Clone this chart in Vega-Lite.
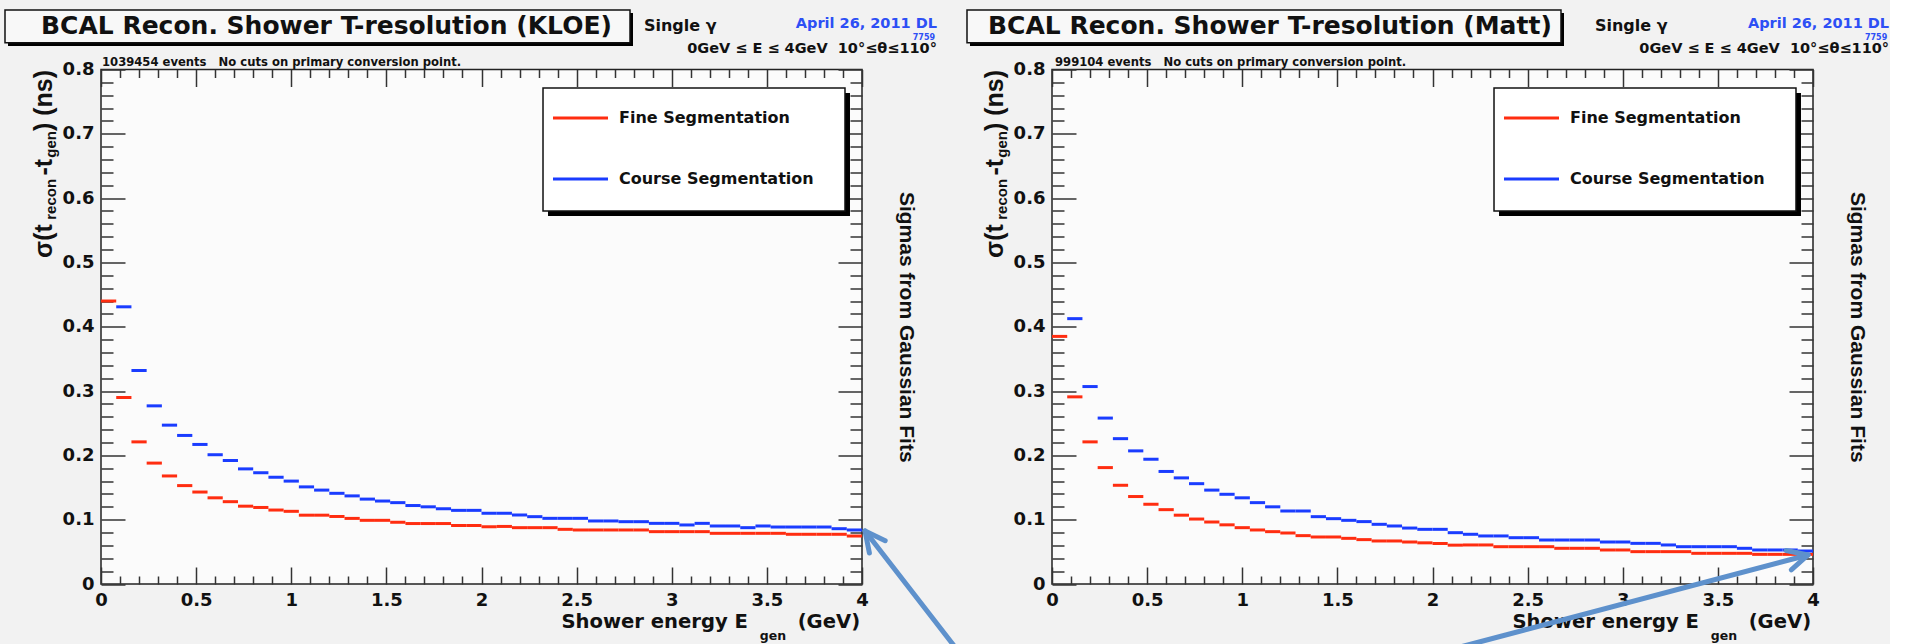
{
"$schema": "https://vega.github.io/schema/vega-lite/v6.json",
"background": "#f2f2f2",
"padding": {"left": 3, "top": 7.5, "right": 0, "bottom": 0},
"autosize": {"type": "pad"},
"bounds": "flush",
"spacing": 190,
"config": {"view": {"stroke": "#222", "strokeWidth": 1.5, "fill": "#fbfbfb"}, "axis": {"tickColor": "#333", "tickWidth": 1.5, "domain": false, "grid": false, "zindex": 1}},
"resolve": {"scale": {"color": "independent", "x": "independent", "y": "independent"}},
"datasets": {"hist": [
{"panel":"KLOE","series":"Fine Segmentation","E_lo":0,"E_hi":0.08,"sigma":0.44},
{"panel":"KLOE","series":"Fine Segmentation","E_lo":0.08,"E_hi":0.16,"sigma":0.29},
{"panel":"KLOE","series":"Fine Segmentation","E_lo":0.16,"E_hi":0.24,"sigma":0.221},
{"panel":"KLOE","series":"Fine Segmentation","E_lo":0.24,"E_hi":0.32,"sigma":0.188},
{"panel":"KLOE","series":"Fine Segmentation","E_lo":0.32,"E_hi":0.4,"sigma":0.168},
{"panel":"KLOE","series":"Fine Segmentation","E_lo":0.4,"E_hi":0.48,"sigma":0.153},
{"panel":"KLOE","series":"Fine Segmentation","E_lo":0.48,"E_hi":0.56,"sigma":0.143},
{"panel":"KLOE","series":"Fine Segmentation","E_lo":0.56,"E_hi":0.64,"sigma":0.134},
{"panel":"KLOE","series":"Fine Segmentation","E_lo":0.64,"E_hi":0.72,"sigma":0.128},
{"panel":"KLOE","series":"Fine Segmentation","E_lo":0.72,"E_hi":0.8,"sigma":0.121},
{"panel":"KLOE","series":"Fine Segmentation","E_lo":0.8,"E_hi":0.88,"sigma":0.119},
{"panel":"KLOE","series":"Fine Segmentation","E_lo":0.88,"E_hi":0.96,"sigma":0.115},
{"panel":"KLOE","series":"Fine Segmentation","E_lo":0.96,"E_hi":1.04,"sigma":0.113},
{"panel":"KLOE","series":"Fine Segmentation","E_lo":1.04,"E_hi":1.12,"sigma":0.107},
{"panel":"KLOE","series":"Fine Segmentation","E_lo":1.12,"E_hi":1.2,"sigma":0.107},
{"panel":"KLOE","series":"Fine Segmentation","E_lo":1.2,"E_hi":1.28,"sigma":0.105},
{"panel":"KLOE","series":"Fine Segmentation","E_lo":1.28,"E_hi":1.36,"sigma":0.102},
{"panel":"KLOE","series":"Fine Segmentation","E_lo":1.36,"E_hi":1.44,"sigma":0.099},
{"panel":"KLOE","series":"Fine Segmentation","E_lo":1.44,"E_hi":1.52,"sigma":0.099},
{"panel":"KLOE","series":"Fine Segmentation","E_lo":1.52,"E_hi":1.6,"sigma":0.096},
{"panel":"KLOE","series":"Fine Segmentation","E_lo":1.6,"E_hi":1.68,"sigma":0.094},
{"panel":"KLOE","series":"Fine Segmentation","E_lo":1.68,"E_hi":1.76,"sigma":0.094},
{"panel":"KLOE","series":"Fine Segmentation","E_lo":1.76,"E_hi":1.84,"sigma":0.094},
{"panel":"KLOE","series":"Fine Segmentation","E_lo":1.84,"E_hi":1.92,"sigma":0.091},
{"panel":"KLOE","series":"Fine Segmentation","E_lo":1.92,"E_hi":2,"sigma":0.091},
{"panel":"KLOE","series":"Fine Segmentation","E_lo":2,"E_hi":2.08,"sigma":0.089},
{"panel":"KLOE","series":"Fine Segmentation","E_lo":2.08,"E_hi":2.16,"sigma":0.0895},
{"panel":"KLOE","series":"Fine Segmentation","E_lo":2.16,"E_hi":2.24,"sigma":0.0876},
{"panel":"KLOE","series":"Fine Segmentation","E_lo":2.24,"E_hi":2.32,"sigma":0.0876},
{"panel":"KLOE","series":"Fine Segmentation","E_lo":2.32,"E_hi":2.4,"sigma":0.0876},
{"panel":"KLOE","series":"Fine Segmentation","E_lo":2.4,"E_hi":2.48,"sigma":0.085},
{"panel":"KLOE","series":"Fine Segmentation","E_lo":2.48,"E_hi":2.56,"sigma":0.084},
{"panel":"KLOE","series":"Fine Segmentation","E_lo":2.56,"E_hi":2.64,"sigma":0.084},
{"panel":"KLOE","series":"Fine Segmentation","E_lo":2.64,"E_hi":2.72,"sigma":0.084},
{"panel":"KLOE","series":"Fine Segmentation","E_lo":2.72,"E_hi":2.8,"sigma":0.084},
{"panel":"KLOE","series":"Fine Segmentation","E_lo":2.8,"E_hi":2.88,"sigma":0.084},
{"panel":"KLOE","series":"Fine Segmentation","E_lo":2.88,"E_hi":2.96,"sigma":0.0814},
{"panel":"KLOE","series":"Fine Segmentation","E_lo":2.96,"E_hi":3.04,"sigma":0.0814},
{"panel":"KLOE","series":"Fine Segmentation","E_lo":3.04,"E_hi":3.12,"sigma":0.0814},
{"panel":"KLOE","series":"Fine Segmentation","E_lo":3.12,"E_hi":3.2,"sigma":0.0814},
{"panel":"KLOE","series":"Fine Segmentation","E_lo":3.2,"E_hi":3.28,"sigma":0.0788},
{"panel":"KLOE","series":"Fine Segmentation","E_lo":3.28,"E_hi":3.36,"sigma":0.0788},
{"panel":"KLOE","series":"Fine Segmentation","E_lo":3.36,"E_hi":3.44,"sigma":0.0788},
{"panel":"KLOE","series":"Fine Segmentation","E_lo":3.44,"E_hi":3.52,"sigma":0.0788},
{"panel":"KLOE","series":"Fine Segmentation","E_lo":3.52,"E_hi":3.6,"sigma":0.0788},
{"panel":"KLOE","series":"Fine Segmentation","E_lo":3.6,"E_hi":3.68,"sigma":0.0773},
{"panel":"KLOE","series":"Fine Segmentation","E_lo":3.68,"E_hi":3.76,"sigma":0.0773},
{"panel":"KLOE","series":"Fine Segmentation","E_lo":3.76,"E_hi":3.84,"sigma":0.0773},
{"panel":"KLOE","series":"Fine Segmentation","E_lo":3.84,"E_hi":3.92,"sigma":0.0773},
{"panel":"KLOE","series":"Fine Segmentation","E_lo":3.92,"E_hi":4,"sigma":0.0746},
{"panel":"KLOE","series":"Course Segmentation","E_lo":0.08,"E_hi":0.16,"sigma":0.431},
{"panel":"KLOE","series":"Course Segmentation","E_lo":0.16,"E_hi":0.24,"sigma":0.332},
{"panel":"KLOE","series":"Course Segmentation","E_lo":0.24,"E_hi":0.32,"sigma":0.277},
{"panel":"KLOE","series":"Course Segmentation","E_lo":0.32,"E_hi":0.4,"sigma":0.247},
{"panel":"KLOE","series":"Course Segmentation","E_lo":0.4,"E_hi":0.48,"sigma":0.231},
{"panel":"KLOE","series":"Course Segmentation","E_lo":0.48,"E_hi":0.56,"sigma":0.217},
{"panel":"KLOE","series":"Course Segmentation","E_lo":0.56,"E_hi":0.64,"sigma":0.201},
{"panel":"KLOE","series":"Course Segmentation","E_lo":0.64,"E_hi":0.72,"sigma":0.192},
{"panel":"KLOE","series":"Course Segmentation","E_lo":0.72,"E_hi":0.8,"sigma":0.179},
{"panel":"KLOE","series":"Course Segmentation","E_lo":0.8,"E_hi":0.88,"sigma":0.173},
{"panel":"KLOE","series":"Course Segmentation","E_lo":0.88,"E_hi":0.96,"sigma":0.166},
{"panel":"KLOE","series":"Course Segmentation","E_lo":0.96,"E_hi":1.04,"sigma":0.16},
{"panel":"KLOE","series":"Course Segmentation","E_lo":1.04,"E_hi":1.12,"sigma":0.151},
{"panel":"KLOE","series":"Course Segmentation","E_lo":1.12,"E_hi":1.2,"sigma":0.146},
{"panel":"KLOE","series":"Course Segmentation","E_lo":1.2,"E_hi":1.28,"sigma":0.141},
{"panel":"KLOE","series":"Course Segmentation","E_lo":1.28,"E_hi":1.36,"sigma":0.137},
{"panel":"KLOE","series":"Course Segmentation","E_lo":1.36,"E_hi":1.44,"sigma":0.132},
{"panel":"KLOE","series":"Course Segmentation","E_lo":1.44,"E_hi":1.52,"sigma":0.129},
{"panel":"KLOE","series":"Course Segmentation","E_lo":1.52,"E_hi":1.6,"sigma":0.1265},
{"panel":"KLOE","series":"Course Segmentation","E_lo":1.6,"E_hi":1.68,"sigma":0.122},
{"panel":"KLOE","series":"Course Segmentation","E_lo":1.68,"E_hi":1.76,"sigma":0.12},
{"panel":"KLOE","series":"Course Segmentation","E_lo":1.76,"E_hi":1.84,"sigma":0.117},
{"panel":"KLOE","series":"Course Segmentation","E_lo":1.84,"E_hi":1.92,"sigma":0.1145},
{"panel":"KLOE","series":"Course Segmentation","E_lo":1.92,"E_hi":2,"sigma":0.1145},
{"panel":"KLOE","series":"Course Segmentation","E_lo":2,"E_hi":2.08,"sigma":0.11},
{"panel":"KLOE","series":"Course Segmentation","E_lo":2.08,"E_hi":2.16,"sigma":0.11},
{"panel":"KLOE","series":"Course Segmentation","E_lo":2.16,"E_hi":2.24,"sigma":0.1073},
{"panel":"KLOE","series":"Course Segmentation","E_lo":2.24,"E_hi":2.32,"sigma":0.1047},
{"panel":"KLOE","series":"Course Segmentation","E_lo":2.32,"E_hi":2.4,"sigma":0.1021},
{"panel":"KLOE","series":"Course Segmentation","E_lo":2.4,"E_hi":2.48,"sigma":0.1021},
{"panel":"KLOE","series":"Course Segmentation","E_lo":2.48,"E_hi":2.56,"sigma":0.1021},
{"panel":"KLOE","series":"Course Segmentation","E_lo":2.56,"E_hi":2.64,"sigma":0.098},
{"panel":"KLOE","series":"Course Segmentation","E_lo":2.64,"E_hi":2.72,"sigma":0.098},
{"panel":"KLOE","series":"Course Segmentation","E_lo":2.72,"E_hi":2.8,"sigma":0.0969},
{"panel":"KLOE","series":"Course Segmentation","E_lo":2.8,"E_hi":2.88,"sigma":0.0969},
{"panel":"KLOE","series":"Course Segmentation","E_lo":2.88,"E_hi":2.96,"sigma":0.0943},
{"panel":"KLOE","series":"Course Segmentation","E_lo":2.96,"E_hi":3.04,"sigma":0.0943},
{"panel":"KLOE","series":"Course Segmentation","E_lo":3.04,"E_hi":3.12,"sigma":0.0918},
{"panel":"KLOE","series":"Course Segmentation","E_lo":3.12,"E_hi":3.2,"sigma":0.0943},
{"panel":"KLOE","series":"Course Segmentation","E_lo":3.2,"E_hi":3.28,"sigma":0.0902},
{"panel":"KLOE","series":"Course Segmentation","E_lo":3.28,"E_hi":3.36,"sigma":0.0902},
{"panel":"KLOE","series":"Course Segmentation","E_lo":3.36,"E_hi":3.44,"sigma":0.0876},
{"panel":"KLOE","series":"Course Segmentation","E_lo":3.44,"E_hi":3.52,"sigma":0.0902},
{"panel":"KLOE","series":"Course Segmentation","E_lo":3.52,"E_hi":3.6,"sigma":0.0886},
{"panel":"KLOE","series":"Course Segmentation","E_lo":3.6,"E_hi":3.68,"sigma":0.0886},
{"panel":"KLOE","series":"Course Segmentation","E_lo":3.68,"E_hi":3.76,"sigma":0.0886},
{"panel":"KLOE","series":"Course Segmentation","E_lo":3.76,"E_hi":3.84,"sigma":0.0886},
{"panel":"KLOE","series":"Course Segmentation","E_lo":3.84,"E_hi":3.92,"sigma":0.086},
{"panel":"KLOE","series":"Course Segmentation","E_lo":3.92,"E_hi":4,"sigma":0.084},
{"panel":"Matt","series":"Fine Segmentation","E_lo":0,"E_hi":0.08,"sigma":0.385},
{"panel":"Matt","series":"Fine Segmentation","E_lo":0.08,"E_hi":0.16,"sigma":0.291},
{"panel":"Matt","series":"Fine Segmentation","E_lo":0.16,"E_hi":0.24,"sigma":0.221},
{"panel":"Matt","series":"Fine Segmentation","E_lo":0.24,"E_hi":0.32,"sigma":0.181},
{"panel":"Matt","series":"Fine Segmentation","E_lo":0.32,"E_hi":0.4,"sigma":0.1535},
{"panel":"Matt","series":"Fine Segmentation","E_lo":0.4,"E_hi":0.48,"sigma":0.136},
{"panel":"Matt","series":"Fine Segmentation","E_lo":0.48,"E_hi":0.56,"sigma":0.124},
{"panel":"Matt","series":"Fine Segmentation","E_lo":0.56,"E_hi":0.64,"sigma":0.1156},
{"panel":"Matt","series":"Fine Segmentation","E_lo":0.64,"E_hi":0.72,"sigma":0.107},
{"panel":"Matt","series":"Fine Segmentation","E_lo":0.72,"E_hi":0.8,"sigma":0.101},
{"panel":"Matt","series":"Fine Segmentation","E_lo":0.8,"E_hi":0.88,"sigma":0.0964},
{"panel":"Matt","series":"Fine Segmentation","E_lo":0.88,"E_hi":0.96,"sigma":0.092},
{"panel":"Matt","series":"Fine Segmentation","E_lo":0.96,"E_hi":1.04,"sigma":0.0876},
{"panel":"Matt","series":"Fine Segmentation","E_lo":1.04,"E_hi":1.12,"sigma":0.084},
{"panel":"Matt","series":"Fine Segmentation","E_lo":1.12,"E_hi":1.2,"sigma":0.0814},
{"panel":"Matt","series":"Fine Segmentation","E_lo":1.2,"E_hi":1.28,"sigma":0.0793},
{"panel":"Matt","series":"Fine Segmentation","E_lo":1.28,"E_hi":1.36,"sigma":0.0752},
{"panel":"Matt","series":"Fine Segmentation","E_lo":1.36,"E_hi":1.44,"sigma":0.0731},
{"panel":"Matt","series":"Fine Segmentation","E_lo":1.44,"E_hi":1.52,"sigma":0.0731},
{"panel":"Matt","series":"Fine Segmentation","E_lo":1.52,"E_hi":1.6,"sigma":0.071},
{"panel":"Matt","series":"Fine Segmentation","E_lo":1.6,"E_hi":1.68,"sigma":0.069},
{"panel":"Matt","series":"Fine Segmentation","E_lo":1.68,"E_hi":1.76,"sigma":0.0669},
{"panel":"Matt","series":"Fine Segmentation","E_lo":1.76,"E_hi":1.84,"sigma":0.0669},
{"panel":"Matt","series":"Fine Segmentation","E_lo":1.84,"E_hi":1.92,"sigma":0.0653},
{"panel":"Matt","series":"Fine Segmentation","E_lo":1.92,"E_hi":2,"sigma":0.064},
{"panel":"Matt","series":"Fine Segmentation","E_lo":2,"E_hi":2.08,"sigma":0.063},
{"panel":"Matt","series":"Fine Segmentation","E_lo":2.08,"E_hi":2.16,"sigma":0.0604},
{"panel":"Matt","series":"Fine Segmentation","E_lo":2.16,"E_hi":2.24,"sigma":0.0607},
{"panel":"Matt","series":"Fine Segmentation","E_lo":2.24,"E_hi":2.32,"sigma":0.0607},
{"panel":"Matt","series":"Fine Segmentation","E_lo":2.32,"E_hi":2.4,"sigma":0.058},
{"panel":"Matt","series":"Fine Segmentation","E_lo":2.4,"E_hi":2.48,"sigma":0.058},
{"panel":"Matt","series":"Fine Segmentation","E_lo":2.48,"E_hi":2.56,"sigma":0.058},
{"panel":"Matt","series":"Fine Segmentation","E_lo":2.56,"E_hi":2.64,"sigma":0.058},
{"panel":"Matt","series":"Fine Segmentation","E_lo":2.64,"E_hi":2.72,"sigma":0.0555},
{"panel":"Matt","series":"Fine Segmentation","E_lo":2.72,"E_hi":2.8,"sigma":0.0555},
{"panel":"Matt","series":"Fine Segmentation","E_lo":2.8,"E_hi":2.88,"sigma":0.0555},
{"panel":"Matt","series":"Fine Segmentation","E_lo":2.88,"E_hi":2.96,"sigma":0.0529},
{"panel":"Matt","series":"Fine Segmentation","E_lo":2.96,"E_hi":3.04,"sigma":0.0529},
{"panel":"Matt","series":"Fine Segmentation","E_lo":3.04,"E_hi":3.12,"sigma":0.0503},
{"panel":"Matt","series":"Fine Segmentation","E_lo":3.12,"E_hi":3.2,"sigma":0.0503},
{"panel":"Matt","series":"Fine Segmentation","E_lo":3.2,"E_hi":3.28,"sigma":0.0503},
{"panel":"Matt","series":"Fine Segmentation","E_lo":3.28,"E_hi":3.36,"sigma":0.0503},
{"panel":"Matt","series":"Fine Segmentation","E_lo":3.36,"E_hi":3.44,"sigma":0.0477},
{"panel":"Matt","series":"Fine Segmentation","E_lo":3.44,"E_hi":3.52,"sigma":0.0477},
{"panel":"Matt","series":"Fine Segmentation","E_lo":3.52,"E_hi":3.6,"sigma":0.0477},
{"panel":"Matt","series":"Fine Segmentation","E_lo":3.6,"E_hi":3.68,"sigma":0.0477},
{"panel":"Matt","series":"Fine Segmentation","E_lo":3.68,"E_hi":3.76,"sigma":0.0461},
{"panel":"Matt","series":"Fine Segmentation","E_lo":3.76,"E_hi":3.84,"sigma":0.0461},
{"panel":"Matt","series":"Fine Segmentation","E_lo":3.84,"E_hi":3.92,"sigma":0.0461},
{"panel":"Matt","series":"Fine Segmentation","E_lo":3.92,"E_hi":4,"sigma":0.0461},
{"panel":"Matt","series":"Course Segmentation","E_lo":0.08,"E_hi":0.16,"sigma":0.4126},
{"panel":"Matt","series":"Course Segmentation","E_lo":0.16,"E_hi":0.24,"sigma":0.307},
{"panel":"Matt","series":"Course Segmentation","E_lo":0.24,"E_hi":0.32,"sigma":0.258},
{"panel":"Matt","series":"Course Segmentation","E_lo":0.32,"E_hi":0.4,"sigma":0.226},
{"panel":"Matt","series":"Course Segmentation","E_lo":0.4,"E_hi":0.48,"sigma":0.207},
{"panel":"Matt","series":"Course Segmentation","E_lo":0.48,"E_hi":0.56,"sigma":0.194},
{"panel":"Matt","series":"Course Segmentation","E_lo":0.56,"E_hi":0.64,"sigma":0.175},
{"panel":"Matt","series":"Course Segmentation","E_lo":0.64,"E_hi":0.72,"sigma":0.165},
{"panel":"Matt","series":"Course Segmentation","E_lo":0.72,"E_hi":0.8,"sigma":0.156},
{"panel":"Matt","series":"Course Segmentation","E_lo":0.8,"E_hi":0.88,"sigma":0.146},
{"panel":"Matt","series":"Course Segmentation","E_lo":0.88,"E_hi":0.96,"sigma":0.1395},
{"panel":"Matt","series":"Course Segmentation","E_lo":0.96,"E_hi":1.04,"sigma":0.134},
{"panel":"Matt","series":"Course Segmentation","E_lo":1.04,"E_hi":1.12,"sigma":0.1265},
{"panel":"Matt","series":"Course Segmentation","E_lo":1.12,"E_hi":1.2,"sigma":0.12},
{"panel":"Matt","series":"Course Segmentation","E_lo":1.2,"E_hi":1.28,"sigma":0.1135},
{"panel":"Matt","series":"Course Segmentation","E_lo":1.28,"E_hi":1.36,"sigma":0.1135},
{"panel":"Matt","series":"Course Segmentation","E_lo":1.36,"E_hi":1.44,"sigma":0.1047},
{"panel":"Matt","series":"Course Segmentation","E_lo":1.44,"E_hi":1.52,"sigma":0.1016},
{"panel":"Matt","series":"Course Segmentation","E_lo":1.52,"E_hi":1.6,"sigma":0.099},
{"panel":"Matt","series":"Course Segmentation","E_lo":1.6,"E_hi":1.68,"sigma":0.097},
{"panel":"Matt","series":"Course Segmentation","E_lo":1.68,"E_hi":1.76,"sigma":0.0928},
{"panel":"Matt","series":"Course Segmentation","E_lo":1.76,"E_hi":1.84,"sigma":0.0902},
{"panel":"Matt","series":"Course Segmentation","E_lo":1.84,"E_hi":1.92,"sigma":0.087},
{"panel":"Matt","series":"Course Segmentation","E_lo":1.92,"E_hi":2,"sigma":0.085},
{"panel":"Matt","series":"Course Segmentation","E_lo":2,"E_hi":2.08,"sigma":0.085},
{"panel":"Matt","series":"Course Segmentation","E_lo":2.08,"E_hi":2.16,"sigma":0.0798},
{"panel":"Matt","series":"Course Segmentation","E_lo":2.16,"E_hi":2.24,"sigma":0.0773},
{"panel":"Matt","series":"Course Segmentation","E_lo":2.24,"E_hi":2.32,"sigma":0.0747},
{"panel":"Matt","series":"Course Segmentation","E_lo":2.32,"E_hi":2.4,"sigma":0.0747},
{"panel":"Matt","series":"Course Segmentation","E_lo":2.4,"E_hi":2.48,"sigma":0.072},
{"panel":"Matt","series":"Course Segmentation","E_lo":2.48,"E_hi":2.56,"sigma":0.072},
{"panel":"Matt","series":"Course Segmentation","E_lo":2.56,"E_hi":2.64,"sigma":0.0684},
{"panel":"Matt","series":"Course Segmentation","E_lo":2.64,"E_hi":2.72,"sigma":0.0684},
{"panel":"Matt","series":"Course Segmentation","E_lo":2.72,"E_hi":2.8,"sigma":0.0684},
{"panel":"Matt","series":"Course Segmentation","E_lo":2.8,"E_hi":2.88,"sigma":0.0684},
{"panel":"Matt","series":"Course Segmentation","E_lo":2.88,"E_hi":2.96,"sigma":0.0653},
{"panel":"Matt","series":"Course Segmentation","E_lo":2.96,"E_hi":3.04,"sigma":0.0653},
{"panel":"Matt","series":"Course Segmentation","E_lo":3.04,"E_hi":3.12,"sigma":0.0632},
{"panel":"Matt","series":"Course Segmentation","E_lo":3.12,"E_hi":3.2,"sigma":0.0632},
{"panel":"Matt","series":"Course Segmentation","E_lo":3.2,"E_hi":3.28,"sigma":0.0607},
{"panel":"Matt","series":"Course Segmentation","E_lo":3.28,"E_hi":3.36,"sigma":0.058},
{"panel":"Matt","series":"Course Segmentation","E_lo":3.36,"E_hi":3.44,"sigma":0.058},
{"panel":"Matt","series":"Course Segmentation","E_lo":3.44,"E_hi":3.52,"sigma":0.058},
{"panel":"Matt","series":"Course Segmentation","E_lo":3.52,"E_hi":3.6,"sigma":0.058},
{"panel":"Matt","series":"Course Segmentation","E_lo":3.6,"E_hi":3.68,"sigma":0.0555},
{"panel":"Matt","series":"Course Segmentation","E_lo":3.68,"E_hi":3.76,"sigma":0.0529},
{"panel":"Matt","series":"Course Segmentation","E_lo":3.76,"E_hi":3.84,"sigma":0.0529},
{"panel":"Matt","series":"Course Segmentation","E_lo":3.84,"E_hi":3.92,"sigma":0.0529},
{"panel":"Matt","series":"Course Segmentation","E_lo":3.92,"E_hi":4,"sigma":0.0513}
]},
"hconcat": [
{
"width": 761, "height": 514.5,
"layer": [
{"data": {"name": "hist"}, "transform": [{"filter": "datum.panel === 'KLOE'"}],
 "mark": {"type": "rule", "strokeWidth": 3},
 "encoding": {
  "x": {"field": "E_lo", "type": "quantitative", "scale": {"domain": [0, 4], "nice": false, "zero": false},
   "axis": {"orient": "bottom", "values": [0,0.5,1,1.5,2,2.5,3,3.5,4], "format": "~g", "ticks": false,
    "labelFont": "DejaVu Sans", "labelFontWeight": "bold", "labelFontSize": 18, "labelColor": "#111",
    "labelPadding": 7, "labelOverlap": false, "labelFlush": false, "labelBound": false, "title": null}},
  "x2": {"field": "E_hi"},
  "y": {"field": "sigma", "type": "quantitative", "scale": {"domain": [0, 0.8], "nice": false, "zero": false},
   "axis": {"orient": "left", "values": [0,0.1,0.2,0.3,0.4,0.5,0.6,0.7,0.8], "format": "~g", "ticks": false,
    "labelFont": "DejaVu Sans", "labelFontWeight": "bold", "labelFontSize": 18, "labelColor": "#111",
    "labelPadding": 7, "labelOverlap": false, "labelFlush": false, "labelBound": false,
    "title": "σ(t\u00a0\u00a0\u00a0\u00a0\u00a0\u00a0\u00a0-t\u00a0\u00a0\u00a0\u00a0) (ns)", "titleFont": "Liberation Sans", "titleFontWeight": "bold", "titleFontSize": 25, "titleColor": "#111", "titleAnchor": "end", "titlePadding": 6}},
  "color": {"field": "series", "type": "nominal", "scale": {"domain": ["Fine Segmentation", "Course Segmentation"], "range": ["#ff2d10", "#1a3cff"]}, "legend": null}
 }},
{"data": {"name": "hist"}, "transform": [{"filter": "datum.panel === 'KLOE'"}],
 "mark": {"type": "rule", "opacity": 0},
 "encoding": {
  "x": {"field": "E_lo", "type": "quantitative", "axis": {"orient": "top", "values": [0,0.5,1,1.5,2,2.5,3,3.5,4], "labels": false, "tickSize": 17, "offset": -17, "title": null}},
  "x2": {"field": "E_hi"},
  "y": {"field": "sigma", "type": "quantitative", "axis": {"orient": "right", "values": [0.4], "labels": false, "ticks": false,
    "title": "Sigmas from Gaussian Fits", "titleFont": "Liberation Sans", "titleFontWeight": "bold", "titleFontSize": 21, "titleColor": "#111", "titlePadding": 33}}
 }},
{"data": {"name": "hist"}, "transform": [{"filter": "datum.panel === 'KLOE'"}],
 "mark": {"type": "rule", "opacity": 0},
 "encoding": {
  "x": {"field": "E_lo", "type": "quantitative", "axis": {"orient": "bottom", "values": [0,0.5,1,1.5,2,2.5,3,3.5,4], "labels": false, "tickSize": 17, "offset": -17, "title": null}},
  "x2": {"field": "E_hi"},
  "y": {"field": "sigma", "type": "quantitative", "axis": {"orient": "left", "values": [0,0.1,0.2,0.3,0.4,0.5,0.6,0.7,0.8], "labels": false, "tickSize": 24, "offset": -24, "title": null}}
 }},
{"data": {"name": "hist"}, "transform": [{"filter": "datum.panel === 'KLOE'"}],
 "mark": {"type": "rule", "opacity": 0},
 "encoding": {
  "x": {"field": "E_lo", "type": "quantitative", "axis": {"orient": "bottom", "values": [0.1,0.2,0.3,0.4,0.6,0.7,0.8,0.9,1.1,1.2,1.3,1.4,1.6,1.7,1.8,1.9,2.1,2.2,2.3,2.4,2.6,2.7,2.8,2.9,3.1,3.2,3.3,3.4,3.6,3.7,3.8,3.9], "labels": false, "tickSize": 8, "offset": -8, "title": null}},
  "x2": {"field": "E_hi"},
  "y": {"field": "sigma", "type": "quantitative", "axis": {"orient": "left", "values": [0.02,0.04,0.06,0.08,0.12,0.14,0.16,0.18,0.22,0.24,0.26,0.28,0.32,0.34,0.36,0.38,0.42,0.44,0.46,0.48,0.52,0.54,0.56,0.58,0.62,0.64,0.66,0.68,0.72,0.74,0.76,0.78], "labels": false, "tickSize": 12, "offset": -12, "title": null}}
 }},
{"data": {"name": "hist"}, "transform": [{"filter": "datum.panel === 'KLOE'"}],
 "mark": {"type": "rule", "opacity": 0},
 "encoding": {
  "x": {"field": "E_lo", "type": "quantitative", "axis": {"orient": "top", "values": [0.1,0.2,0.3,0.4,0.6,0.7,0.8,0.9,1.1,1.2,1.3,1.4,1.6,1.7,1.8,1.9,2.1,2.2,2.3,2.4,2.6,2.7,2.8,2.9,3.1,3.2,3.3,3.4,3.6,3.7,3.8,3.9], "labels": false, "tickSize": 8, "offset": -8, "title": null}},
  "x2": {"field": "E_hi"},
  "y": {"field": "sigma", "type": "quantitative", "axis": {"orient": "right", "values": [0,0.1,0.2,0.3,0.4,0.5,0.6,0.7,0.8], "labels": false, "tickSize": 24, "offset": -24, "title": null}}
 }},
{"data": {"name": "hist"}, "transform": [{"filter": "datum.panel === 'KLOE'"}],
 "mark": {"type": "rule", "opacity": 0},
 "encoding": {
  "x": {"field": "E_lo", "type": "quantitative", "axis": null},
  "x2": {"field": "E_hi"},
  "y": {"field": "sigma", "type": "quantitative", "axis": {"orient": "right", "values": [0.02,0.04,0.06,0.08,0.12,0.14,0.16,0.18,0.22,0.24,0.26,0.28,0.32,0.34,0.36,0.38,0.42,0.44,0.46,0.48,0.52,0.54,0.56,0.58,0.62,0.64,0.66,0.68,0.72,0.74,0.76,0.78], "labels": false, "tickSize": 12, "offset": -12, "title": null}}
 }},
{"data": {"values": [{}]}, "mark": {"type": "rect", "fill": "#000000", "clip": false},
 "encoding": {"x": {"datum": 2.3496, "type": "quantitative", "axis": null}, "x2": {"datum": 3.9369}, "y": {"datum": 0.7636, "type": "quantitative", "axis": null}, "y2": {"datum": 0.5723}}},
{"data": {"values": [{}]}, "mark": {"type": "rect", "fill": "#ffffff", "stroke": "#111", "strokeWidth": 1.5, "clip": false},
 "encoding": {"x": {"datum": 2.3233, "type": "quantitative", "axis": null}, "x2": {"datum": 3.9106}, "y": {"datum": 0.7714, "type": "quantitative", "axis": null}, "y2": {"datum": 0.5801}}},
{"data": {"values": [{}]}, "mark": {"type": "rule", "strokeWidth": 3, "clip": false},
 "encoding": {"x": {"datum": 2.3758, "type": "quantitative", "axis": null}, "x2": {"datum": 2.6649}, "y": {"datum": 0.7247, "type": "quantitative", "axis": null}, "color": {"datum": "Fine Segmentation", "type": "nominal", "legend": null}}},
{"data": {"values": [{}]}, "mark": {"type": "rule", "strokeWidth": 3, "clip": false},
 "encoding": {"x": {"datum": 2.3758, "type": "quantitative", "axis": null}, "x2": {"datum": 2.6649}, "y": {"datum": 0.6299, "type": "quantitative", "axis": null}, "color": {"datum": "Course Segmentation", "type": "nominal", "legend": null}}},
{"data": {"values": [{}]}, "mark": {"type": "text", "text": "Fine Segmentation", "font": "DejaVu Sans", "fontWeight": "bold", "fontSize": 16, "align": "left", "baseline": "middle", "color": "#111", "clip": false},
 "encoding": {"x": {"datum": 2.7227, "type": "quantitative", "axis": null}, "y": {"datum": 0.7247, "type": "quantitative", "axis": null}}},
{"data": {"values": [{}]}, "mark": {"type": "text", "text": "Course Segmentation", "font": "DejaVu Sans", "fontWeight": "bold", "fontSize": 16, "align": "left", "baseline": "middle", "color": "#111", "clip": false},
 "encoding": {"x": {"datum": 2.7227, "type": "quantitative", "axis": null}, "y": {"datum": 0.6299, "type": "quantitative", "axis": null}}},
{"data": {"values": [{}]}, "mark": {"type": "rect", "fill": "#000000", "clip": false},
 "encoding": {"x": {"datum": -0.4888, "type": "quantitative", "axis": null}, "x2": {"datum": 2.7963}, "y": {"datum": 0.888, "type": "quantitative", "axis": null}, "y2": {"datum": 0.8367}}},
{"data": {"values": [{}]}, "mark": {"type": "rect", "fill": "#f8f8f8", "stroke": "#111", "strokeWidth": 1.5, "clip": false},
 "encoding": {"x": {"datum": -0.5046, "type": "quantitative", "axis": null}, "x2": {"datum": 2.7806}, "y": {"datum": 0.8927, "type": "quantitative", "axis": null}, "y2": {"datum": 0.8414}}},
{"data": {"values": [{}]}, "mark": {"type": "text", "text": "BCAL Recon. Shower T-resolution (KLOE)", "font": "DejaVu Sans", "fontWeight": "bold", "fontSize": 25, "align": "left", "baseline": "middle", "color": "#111", "clip": false},
 "encoding": {"x": {"datum": -0.3154, "type": "quantitative", "axis": null}, "y": {"datum": 0.867, "type": "quantitative", "axis": null}}},
{"data": {"values": [{}]}, "mark": {"type": "text", "text": "1039454 events\u00a0\u00a0\u00a0No cuts on primary conversion point.", "font": "DejaVu Sans", "fontWeight": "bold", "fontSize": 11.6, "align": "left", "baseline": "middle", "color": "#111", "clip": false},
 "encoding": {"x": {"datum": 0.0053, "type": "quantitative", "axis": null}, "y": {"datum": 0.8103, "type": "quantitative", "axis": null}}},
{"data": {"values": [{}]}, "mark": {"type": "text", "text": "Single γ", "font": "DejaVu Sans", "fontWeight": "bold", "fontSize": 16, "align": "left", "baseline": "middle", "color": "#111", "clip": false},
 "encoding": {"x": {"datum": 2.854, "type": "quantitative", "axis": null}, "y": {"datum": 0.8678, "type": "quantitative", "axis": null}}},
{"data": {"values": [{}]}, "mark": {"type": "text", "text": "April 26, 2011 DL", "font": "DejaVu Sans", "fontWeight": "bold", "fontSize": 14.5, "align": "right", "baseline": "middle", "color": "#2d4ff5", "clip": false},
 "encoding": {"x": {"datum": 4.394, "type": "quantitative", "axis": null}, "y": {"datum": 0.871, "type": "quantitative", "axis": null}}},
{"data": {"values": [{}]}, "mark": {"type": "text", "text": "7759", "font": "DejaVu Sans", "fontWeight": "bold", "fontSize": 8, "align": "right", "baseline": "middle", "color": "#2d4ff5", "clip": false},
 "encoding": {"x": {"datum": 4.384, "type": "quantitative", "axis": null}, "y": {"datum": 0.8491, "type": "quantitative", "axis": null}}},
{"data": {"values": [{}]}, "mark": {"type": "text", "text": "0GeV ≤ E ≤ 4GeV\u00a0\u00a010°≤θ≤110°", "font": "DejaVu Sans", "fontWeight": "bold", "fontSize": 14.5, "align": "right", "baseline": "middle", "color": "#111", "clip": false},
 "encoding": {"x": {"datum": 4.394, "type": "quantitative", "axis": null}, "y": {"datum": 0.832, "type": "quantitative", "axis": null}}},
{"data": {"values": [{}]}, "mark": {"type": "text", "text": "Shower energy E", "font": "DejaVu Sans", "fontWeight": "bold", "fontSize": 19.6, "align": "right", "baseline": "middle", "color": "#111", "clip": false},
 "encoding": {"x": {"datum": 3.4008, "type": "quantitative", "axis": null}, "y": {"datum": -0.0585, "type": "quantitative", "axis": null}}},
{"data": {"values": [{}]}, "mark": {"type": "text", "text": "(GeV)", "font": "DejaVu Sans", "fontWeight": "bold", "fontSize": 19.6, "align": "right", "baseline": "middle", "color": "#111", "clip": false},
 "encoding": {"x": {"datum": 3.99, "type": "quantitative", "axis": null}, "y": {"datum": -0.0585, "type": "quantitative", "axis": null}}},
{"data": {"values": [{}]}, "mark": {"type": "text", "text": "gen", "font": "DejaVu Sans", "fontWeight": "bold", "fontSize": 12.5, "align": "center", "baseline": "middle", "color": "#111", "clip": false},
 "encoding": {"x": {"datum": 3.532, "type": "quantitative", "axis": null}, "y": {"datum": -0.0809, "type": "quantitative", "axis": null}}},
{"data": {"values": [{}]}, "mark": {"type": "text", "text": "recon", "font": "Liberation Sans", "fontWeight": "bold", "fontSize": 15, "angle": 270, "align": "center", "baseline": "middle", "color": "#111", "clip": false},
 "encoding": {"x": {"datum": -0.2654, "type": "quantitative", "axis": null}, "y": {"datum": 0.5981, "type": "quantitative", "axis": null}}},
{"data": {"values": [{}]}, "mark": {"type": "text", "text": "gen", "font": "Liberation Sans", "fontWeight": "bold", "fontSize": 15, "angle": 270, "align": "center", "baseline": "middle", "color": "#111", "clip": false},
 "encoding": {"x": {"datum": -0.2654, "type": "quantitative", "axis": null}, "y": {"datum": 0.6835, "type": "quantitative", "axis": null}}},
{"data": {"values": [{}]}, "mark": {"type": "rule", "color": "#5e91cc", "strokeWidth": 5, "strokeCap": "round", "clip": false},
 "encoding": {"x": {"datum": 4.505, "type": "quantitative", "axis": null}, "y": {"datum": -0.1042, "type": "quantitative", "axis": null}, "x2": {"datum": 4.016}, "y2": {"datum": 0.0824}}},
{"data": {"values": [{}]}, "mark": {"type": "point", "shape": "M-2,-1L0,0L-2,1", "size": 400, "angle": 232.2, "filled": false, "stroke": "#5e91cc", "strokeWidth": 5, "strokeCap": "round", "strokeJoin": "round", "opacity": 1, "clip": false},
 "encoding": {"x": {"datum": 4.016, "type": "quantitative", "axis": null}, "y": {"datum": 0.0824, "type": "quantitative", "axis": null}}}
]
},
{
"width": 761, "height": 514.5,
"layer": [
{"data": {"name": "hist"}, "transform": [{"filter": "datum.panel === 'Matt'"}],
 "mark": {"type": "rule", "strokeWidth": 3},
 "encoding": {
  "x": {"field": "E_lo", "type": "quantitative", "scale": {"domain": [0, 4], "nice": false, "zero": false},
   "axis": {"orient": "bottom", "values": [0,0.5,1,1.5,2,2.5,3,3.5,4], "format": "~g", "ticks": false,
    "labelFont": "DejaVu Sans", "labelFontWeight": "bold", "labelFontSize": 18, "labelColor": "#111",
    "labelPadding": 7, "labelOverlap": false, "labelFlush": false, "labelBound": false, "title": null}},
  "x2": {"field": "E_hi"},
  "y": {"field": "sigma", "type": "quantitative", "scale": {"domain": [0, 0.8], "nice": false, "zero": false},
   "axis": {"orient": "left", "values": [0,0.1,0.2,0.3,0.4,0.5,0.6,0.7,0.8], "format": "~g", "ticks": false,
    "labelFont": "DejaVu Sans", "labelFontWeight": "bold", "labelFontSize": 18, "labelColor": "#111",
    "labelPadding": 7, "labelOverlap": false, "labelFlush": false, "labelBound": false,
    "title": "σ(t\u00a0\u00a0\u00a0\u00a0\u00a0\u00a0\u00a0-t\u00a0\u00a0\u00a0\u00a0) (ns)", "titleFont": "Liberation Sans", "titleFontWeight": "bold", "titleFontSize": 25, "titleColor": "#111", "titleAnchor": "end", "titlePadding": 6}},
  "color": {"field": "series", "type": "nominal", "scale": {"domain": ["Fine Segmentation", "Course Segmentation"], "range": ["#ff2d10", "#1a3cff"]}, "legend": null}
 }},
{"data": {"name": "hist"}, "transform": [{"filter": "datum.panel === 'Matt'"}],
 "mark": {"type": "rule", "opacity": 0},
 "encoding": {
  "x": {"field": "E_lo", "type": "quantitative", "axis": {"orient": "top", "values": [0,0.5,1,1.5,2,2.5,3,3.5,4], "labels": false, "tickSize": 17, "offset": -17, "title": null}},
  "x2": {"field": "E_hi"},
  "y": {"field": "sigma", "type": "quantitative", "axis": {"orient": "right", "values": [0.4], "labels": false, "ticks": false,
    "title": "Sigmas from Gaussian Fits", "titleFont": "Liberation Sans", "titleFontWeight": "bold", "titleFontSize": 21, "titleColor": "#111", "titlePadding": 33}}
 }},
{"data": {"name": "hist"}, "transform": [{"filter": "datum.panel === 'Matt'"}],
 "mark": {"type": "rule", "opacity": 0},
 "encoding": {
  "x": {"field": "E_lo", "type": "quantitative", "axis": {"orient": "bottom", "values": [0,0.5,1,1.5,2,2.5,3,3.5,4], "labels": false, "tickSize": 17, "offset": -17, "title": null}},
  "x2": {"field": "E_hi"},
  "y": {"field": "sigma", "type": "quantitative", "axis": {"orient": "left", "values": [0,0.1,0.2,0.3,0.4,0.5,0.6,0.7,0.8], "labels": false, "tickSize": 24, "offset": -24, "title": null}}
 }},
{"data": {"name": "hist"}, "transform": [{"filter": "datum.panel === 'Matt'"}],
 "mark": {"type": "rule", "opacity": 0},
 "encoding": {
  "x": {"field": "E_lo", "type": "quantitative", "axis": {"orient": "bottom", "values": [0.1,0.2,0.3,0.4,0.6,0.7,0.8,0.9,1.1,1.2,1.3,1.4,1.6,1.7,1.8,1.9,2.1,2.2,2.3,2.4,2.6,2.7,2.8,2.9,3.1,3.2,3.3,3.4,3.6,3.7,3.8,3.9], "labels": false, "tickSize": 8, "offset": -8, "title": null}},
  "x2": {"field": "E_hi"},
  "y": {"field": "sigma", "type": "quantitative", "axis": {"orient": "left", "values": [0.02,0.04,0.06,0.08,0.12,0.14,0.16,0.18,0.22,0.24,0.26,0.28,0.32,0.34,0.36,0.38,0.42,0.44,0.46,0.48,0.52,0.54,0.56,0.58,0.62,0.64,0.66,0.68,0.72,0.74,0.76,0.78], "labels": false, "tickSize": 12, "offset": -12, "title": null}}
 }},
{"data": {"name": "hist"}, "transform": [{"filter": "datum.panel === 'Matt'"}],
 "mark": {"type": "rule", "opacity": 0},
 "encoding": {
  "x": {"field": "E_lo", "type": "quantitative", "axis": {"orient": "top", "values": [0.1,0.2,0.3,0.4,0.6,0.7,0.8,0.9,1.1,1.2,1.3,1.4,1.6,1.7,1.8,1.9,2.1,2.2,2.3,2.4,2.6,2.7,2.8,2.9,3.1,3.2,3.3,3.4,3.6,3.7,3.8,3.9], "labels": false, "tickSize": 8, "offset": -8, "title": null}},
  "x2": {"field": "E_hi"},
  "y": {"field": "sigma", "type": "quantitative", "axis": {"orient": "right", "values": [0,0.1,0.2,0.3,0.4,0.5,0.6,0.7,0.8], "labels": false, "tickSize": 24, "offset": -24, "title": null}}
 }},
{"data": {"name": "hist"}, "transform": [{"filter": "datum.panel === 'Matt'"}],
 "mark": {"type": "rule", "opacity": 0},
 "encoding": {
  "x": {"field": "E_lo", "type": "quantitative", "axis": null},
  "x2": {"field": "E_hi"},
  "y": {"field": "sigma", "type": "quantitative", "axis": {"orient": "right", "values": [0.02,0.04,0.06,0.08,0.12,0.14,0.16,0.18,0.22,0.24,0.26,0.28,0.32,0.34,0.36,0.38,0.42,0.44,0.46,0.48,0.52,0.54,0.56,0.58,0.62,0.64,0.66,0.68,0.72,0.74,0.76,0.78], "labels": false, "tickSize": 12, "offset": -12, "title": null}}
 }},
{"data": {"values": [{}]}, "mark": {"type": "rect", "fill": "#000000", "clip": false},
 "encoding": {"x": {"datum": 2.3496, "type": "quantitative", "axis": null}, "x2": {"datum": 3.9369}, "y": {"datum": 0.7636, "type": "quantitative", "axis": null}, "y2": {"datum": 0.5723}}},
{"data": {"values": [{}]}, "mark": {"type": "rect", "fill": "#ffffff", "stroke": "#111", "strokeWidth": 1.5, "clip": false},
 "encoding": {"x": {"datum": 2.3233, "type": "quantitative", "axis": null}, "x2": {"datum": 3.9106}, "y": {"datum": 0.7714, "type": "quantitative", "axis": null}, "y2": {"datum": 0.5801}}},
{"data": {"values": [{}]}, "mark": {"type": "rule", "strokeWidth": 3, "clip": false},
 "encoding": {"x": {"datum": 2.3758, "type": "quantitative", "axis": null}, "x2": {"datum": 2.6649}, "y": {"datum": 0.7247, "type": "quantitative", "axis": null}, "color": {"datum": "Fine Segmentation", "type": "nominal", "legend": null}}},
{"data": {"values": [{}]}, "mark": {"type": "rule", "strokeWidth": 3, "clip": false},
 "encoding": {"x": {"datum": 2.3758, "type": "quantitative", "axis": null}, "x2": {"datum": 2.6649}, "y": {"datum": 0.6299, "type": "quantitative", "axis": null}, "color": {"datum": "Course Segmentation", "type": "nominal", "legend": null}}},
{"data": {"values": [{}]}, "mark": {"type": "text", "text": "Fine Segmentation", "font": "DejaVu Sans", "fontWeight": "bold", "fontSize": 16, "align": "left", "baseline": "middle", "color": "#111", "clip": false},
 "encoding": {"x": {"datum": 2.7227, "type": "quantitative", "axis": null}, "y": {"datum": 0.7247, "type": "quantitative", "axis": null}}},
{"data": {"values": [{}]}, "mark": {"type": "text", "text": "Course Segmentation", "font": "DejaVu Sans", "fontWeight": "bold", "fontSize": 16, "align": "left", "baseline": "middle", "color": "#111", "clip": false},
 "encoding": {"x": {"datum": 2.7227, "type": "quantitative", "axis": null}, "y": {"datum": 0.6299, "type": "quantitative", "axis": null}}},
{"data": {"values": [{}]}, "mark": {"type": "rect", "fill": "#000000", "clip": false},
 "encoding": {"x": {"datum": -0.4311, "type": "quantitative", "axis": null}, "x2": {"datum": 2.6912}, "y": {"datum": 0.888, "type": "quantitative", "axis": null}, "y2": {"datum": 0.8367}}},
{"data": {"values": [{}]}, "mark": {"type": "rect", "fill": "#f8f8f8", "stroke": "#111", "strokeWidth": 1.5, "clip": false},
 "encoding": {"x": {"datum": -0.4468, "type": "quantitative", "axis": null}, "x2": {"datum": 2.6754}, "y": {"datum": 0.8927, "type": "quantitative", "axis": null}, "y2": {"datum": 0.8414}}},
{"data": {"values": [{}]}, "mark": {"type": "text", "text": "BCAL Recon. Shower T-resolution (Matt)", "font": "DejaVu Sans", "fontWeight": "bold", "fontSize": 25, "align": "left", "baseline": "middle", "color": "#111", "clip": false},
 "encoding": {"x": {"datum": -0.3364, "type": "quantitative", "axis": null}, "y": {"datum": 0.867, "type": "quantitative", "axis": null}}},
{"data": {"values": [{}]}, "mark": {"type": "text", "text": "999104 events\u00a0\u00a0\u00a0No cuts on primary conversion point.", "font": "DejaVu Sans", "fontWeight": "bold", "fontSize": 11.6, "align": "left", "baseline": "middle", "color": "#111", "clip": false},
 "encoding": {"x": {"datum": 0.0158, "type": "quantitative", "axis": null}, "y": {"datum": 0.8103, "type": "quantitative", "axis": null}}},
{"data": {"values": [{}]}, "mark": {"type": "text", "text": "Single γ", "font": "DejaVu Sans", "fontWeight": "bold", "fontSize": 16, "align": "left", "baseline": "middle", "color": "#111", "clip": false},
 "encoding": {"x": {"datum": 2.854, "type": "quantitative", "axis": null}, "y": {"datum": 0.8678, "type": "quantitative", "axis": null}}},
{"data": {"values": [{}]}, "mark": {"type": "text", "text": "April 26, 2011 DL", "font": "DejaVu Sans", "fontWeight": "bold", "fontSize": 14.5, "align": "right", "baseline": "middle", "color": "#2d4ff5", "clip": false},
 "encoding": {"x": {"datum": 4.4, "type": "quantitative", "axis": null}, "y": {"datum": 0.871, "type": "quantitative", "axis": null}}},
{"data": {"values": [{}]}, "mark": {"type": "text", "text": "7759", "font": "DejaVu Sans", "fontWeight": "bold", "fontSize": 8, "align": "right", "baseline": "middle", "color": "#2d4ff5", "clip": false},
 "encoding": {"x": {"datum": 4.39, "type": "quantitative", "axis": null}, "y": {"datum": 0.8491, "type": "quantitative", "axis": null}}},
{"data": {"values": [{}]}, "mark": {"type": "text", "text": "0GeV ≤ E ≤ 4GeV\u00a0\u00a010°≤θ≤110°", "font": "DejaVu Sans", "fontWeight": "bold", "fontSize": 14.5, "align": "right", "baseline": "middle", "color": "#111", "clip": false},
 "encoding": {"x": {"datum": 4.4, "type": "quantitative", "axis": null}, "y": {"datum": 0.832, "type": "quantitative", "axis": null}}},
{"data": {"values": [{}]}, "mark": {"type": "text", "text": "Shower energy E", "font": "DejaVu Sans", "fontWeight": "bold", "fontSize": 19.6, "align": "right", "baseline": "middle", "color": "#111", "clip": false},
 "encoding": {"x": {"datum": 3.4008, "type": "quantitative", "axis": null}, "y": {"datum": -0.0585, "type": "quantitative", "axis": null}}},
{"data": {"values": [{}]}, "mark": {"type": "text", "text": "(GeV)", "font": "DejaVu Sans", "fontWeight": "bold", "fontSize": 19.6, "align": "right", "baseline": "middle", "color": "#111", "clip": false},
 "encoding": {"x": {"datum": 3.99, "type": "quantitative", "axis": null}, "y": {"datum": -0.0585, "type": "quantitative", "axis": null}}},
{"data": {"values": [{}]}, "mark": {"type": "text", "text": "gen", "font": "DejaVu Sans", "fontWeight": "bold", "fontSize": 12.5, "align": "center", "baseline": "middle", "color": "#111", "clip": false},
 "encoding": {"x": {"datum": 3.532, "type": "quantitative", "axis": null}, "y": {"datum": -0.0809, "type": "quantitative", "axis": null}}},
{"data": {"values": [{}]}, "mark": {"type": "text", "text": "recon", "font": "Liberation Sans", "fontWeight": "bold", "fontSize": 15, "angle": 270, "align": "center", "baseline": "middle", "color": "#111", "clip": false},
 "encoding": {"x": {"datum": -0.2654, "type": "quantitative", "axis": null}, "y": {"datum": 0.5981, "type": "quantitative", "axis": null}}},
{"data": {"values": [{}]}, "mark": {"type": "text", "text": "gen", "font": "Liberation Sans", "fontWeight": "bold", "fontSize": 15, "angle": 270, "align": "center", "baseline": "middle", "color": "#111", "clip": false},
 "encoding": {"x": {"datum": -0.2654, "type": "quantitative", "axis": null}, "y": {"datum": 0.6835, "type": "quantitative", "axis": null}}},
{"data": {"values": [{}]}, "mark": {"type": "rule", "color": "#5e91cc", "strokeWidth": 5, "strokeCap": "round", "clip": false},
 "encoding": {"x": {"datum": 2.066, "type": "quantitative", "axis": null}, "y": {"datum": -0.1042, "type": "quantitative", "axis": null}, "x2": {"datum": 3.974}, "y2": {"datum": 0.0451}}},
{"data": {"values": [{}]}, "mark": {"type": "point", "shape": "M-2,-1L0,0L-2,1", "size": 400, "angle": 345.2, "filled": false, "stroke": "#5e91cc", "strokeWidth": 5, "strokeCap": "round", "strokeJoin": "round", "opacity": 1, "clip": false},
 "encoding": {"x": {"datum": 3.974, "type": "quantitative", "axis": null}, "y": {"datum": 0.0451, "type": "quantitative", "axis": null}}}
]
}
]
}
